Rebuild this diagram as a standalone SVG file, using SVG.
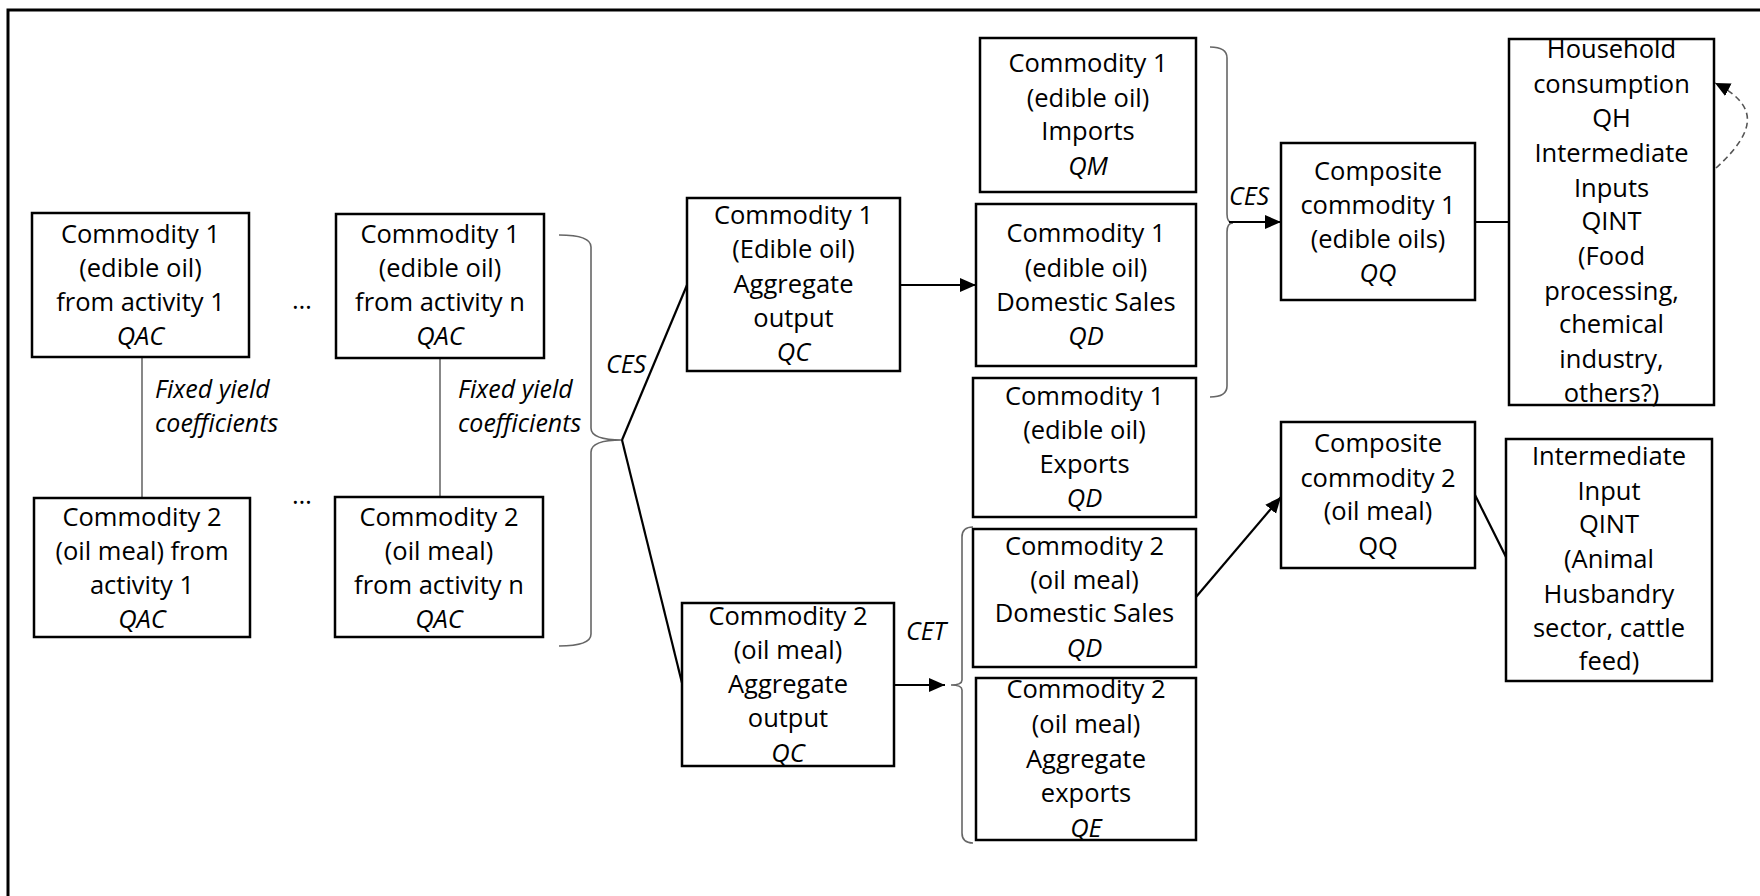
<svg xmlns="http://www.w3.org/2000/svg" width="1760" height="896" viewBox="0 0 1760 896">
  <defs>
    <style>
      .box { fill: #ffffff; stroke: #000000; stroke-width: 2.5; }
      .t { font-family: "Open Sans", "Liberation Sans", sans-serif; font-size: 25.5px; fill: #000000; text-anchor: middle; }
      .i { font-style: italic; }
      .lbl { font-family: "Open Sans", "Liberation Sans", sans-serif; font-size: 25px; font-style: italic; fill: #000000; }
      .link { fill: none; stroke: #000000; stroke-width: 2.2; }
      .thin { fill: none; stroke: #555555; stroke-width: 1.4; }
      .brace { fill: none; stroke: #666666; stroke-width: 1.6; }
      .dash { fill: none; stroke: #555555; stroke-width: 1.6; stroke-dasharray: 6 4; }
    </style>
    <marker id="arrow" markerUnits="userSpaceOnUse" markerWidth="18" markerHeight="16" refX="16" refY="7" orient="auto">
      <path d="M0,0 L16,7 L0,14 Z" fill="#000000"/>
    </marker>
    <marker id="arrowSmall" markerUnits="userSpaceOnUse" markerWidth="18" markerHeight="16" refX="15" refY="7" orient="auto">
      <path d="M0,0 L15,7 L0,14 Z" fill="#000000"/>
    </marker>
  </defs>

  <rect width="1760" height="896" fill="#ffffff"/>
  <!-- outer frame -->
  <rect x="8" y="10" width="1800" height="1000" fill="none" stroke="#000000" stroke-width="3"/>

  <g id="connectors">
    <!-- fixed yield links -->
    <line class="thin" x1="142" y1="357" x2="142" y2="498"/>
    <line class="thin" x1="440" y1="358" x2="440" y2="497"/>
    <!-- brace grouping activity outputs -->
    <path class="brace" d="M559,235 Q591,235 591,247 L591,428 Q591,440 622,440 Q591,440 591,452 L591,634 Q591,646 559,646"/>
    <line class="link" x1="622" y1="440" x2="687" y2="285"/>
    <line class="link" x1="622" y1="440" x2="682" y2="683"/>
    <!-- aggregate output to domestic sales -->
    <line class="link" x1="900" y1="285" x2="976" y2="285" marker-end="url(#arrow)"/>
    <!-- CET split of oil meal -->
    <line class="link" x1="894" y1="685" x2="945" y2="685" marker-end="url(#arrow)"/>
    <path class="brace" d="M973,527 Q962,527 962,537 L962,680 Q962,685 951,685 Q962,685 962,690 L962,833 Q962,843 973,843"/>
    <!-- CES aggregation of edible oil supply -->
    <path class="brace" d="M1210,47 Q1227,47 1227,58 L1227,214 Q1227,223 1233,223 Q1227,223 1227,232 L1227,386 Q1227,397 1210,397"/>
    <line class="link" x1="1229" y1="222" x2="1281" y2="222" marker-end="url(#arrow)"/>
    <line class="link" x1="1475" y1="222" x2="1509" y2="222"/>
    <!-- oil meal domestic sales to composite -->
    <line class="link" x1="1196" y1="597" x2="1281" y2="497" marker-end="url(#arrow)"/>
    <line class="link" x1="1475" y1="495" x2="1506" y2="557"/>
    <!-- feedback loop on household demand -->
    <path class="dash" d="M1716,168 C1760,128 1756,104 1715,83" marker-end="url(#arrowSmall)"/>
  </g>

  <g id="labels">
    <text class="lbl" x="155" y="398">Fixed yield</text>
    <text class="lbl" x="155" y="432">coefficients</text>
    <text class="lbl" x="458" y="398">Fixed yield</text>
    <text class="lbl" x="458" y="432">coefficients</text>
    <text class="lbl" x="606" y="373">CES</text>
    <text class="lbl" x="906" y="640">CET</text>
    <text class="lbl" x="1229" y="205">CES</text>
    <text class="t" x="302" y="309">…</text>
    <text class="t" x="302" y="504">…</text>
  </g>

  <g id="act1-oil">
    <rect class="box" x="32" y="213" width="217" height="144"/>
    <text class="t" x="140.5" y="243">Commodity 1</text>
    <text class="t" x="140.5" y="277">(edible oil)</text>
    <text class="t" x="140.5" y="311">from activity 1</text>
    <text class="t i" x="140.5" y="345">QAC</text>
  </g>

  <g id="actn-oil">
    <rect class="box" x="336" y="214" width="208" height="144"/>
    <text class="t" x="440" y="243">Commodity 1</text>
    <text class="t" x="440" y="277">(edible oil)</text>
    <text class="t" x="440" y="311">from activity n</text>
    <text class="t i" x="440" y="345">QAC</text>
  </g>

  <g id="act1-meal">
    <rect class="box" x="34" y="498" width="216" height="139"/>
    <text class="t" x="142" y="526">Commodity 2</text>
    <text class="t" x="142" y="560">(oil meal) from</text>
    <text class="t" x="142" y="594">activity 1</text>
    <text class="t i" x="142" y="628">QAC</text>
  </g>

  <g id="actn-meal">
    <rect class="box" x="335" y="497" width="208" height="140"/>
    <text class="t" x="439" y="526">Commodity 2</text>
    <text class="t" x="439" y="560">(oil meal)</text>
    <text class="t" x="439" y="594">from activity n</text>
    <text class="t i" x="439" y="628">QAC</text>
  </g>

  <g id="oil-aggregate">
    <rect class="box" x="687" y="198" width="213" height="173"/>
    <text class="t" x="793.5" y="224">Commodity 1</text>
    <text class="t" x="793.5" y="258">(Edible oil)</text>
    <text class="t" x="793.5" y="293">Aggregate</text>
    <text class="t" x="793.5" y="327">output</text>
    <text class="t i" x="793.5" y="361">QC</text>
  </g>

  <g id="meal-aggregate">
    <rect class="box" x="682" y="603" width="212" height="163"/>
    <text class="t" x="788" y="625">Commodity 2</text>
    <text class="t" x="788" y="659">(oil meal)</text>
    <text class="t" x="788" y="693">Aggregate</text>
    <text class="t" x="788" y="727">output</text>
    <text class="t i" x="788" y="762">QC</text>
  </g>

  <g id="oil-imports">
    <rect class="box" x="980" y="38" width="216" height="154"/>
    <text class="t" x="1088" y="72">Commodity 1</text>
    <text class="t" x="1088" y="107">(edible oil)</text>
    <text class="t" x="1088" y="140">Imports</text>
    <text class="t i" x="1088" y="175">QM</text>
  </g>

  <g id="oil-domestic">
    <rect class="box" x="976" y="204" width="220" height="162"/>
    <text class="t" x="1086" y="242">Commodity 1</text>
    <text class="t" x="1086" y="277">(edible oil)</text>
    <text class="t" x="1086" y="311">Domestic Sales</text>
    <text class="t i" x="1086" y="345">QD</text>
  </g>

  <g id="oil-exports">
    <rect class="box" x="973" y="378" width="223" height="139"/>
    <text class="t" x="1084.5" y="405">Commodity 1</text>
    <text class="t" x="1084.5" y="439">(edible oil)</text>
    <text class="t" x="1084.5" y="473">Exports</text>
    <text class="t i" x="1084.5" y="507">QD</text>
  </g>

  <g id="meal-domestic">
    <rect class="box" x="973" y="529" width="223" height="138"/>
    <text class="t" x="1084.5" y="555">Commodity 2</text>
    <text class="t" x="1084.5" y="589">(oil meal)</text>
    <text class="t" x="1084.5" y="622">Domestic Sales</text>
    <text class="t i" x="1084.5" y="657">QD</text>
  </g>

  <g id="meal-exports">
    <rect class="box" x="976" y="678" width="220" height="162"/>
    <text class="t" x="1086" y="698">Commodity 2</text>
    <text class="t" x="1086" y="733">(oil meal)</text>
    <text class="t" x="1086" y="768">Aggregate</text>
    <text class="t" x="1086" y="802">exports</text>
    <text class="t i" x="1086" y="837">QE</text>
  </g>

  <g id="oil-composite">
    <rect class="box" x="1281" y="143" width="194" height="157"/>
    <text class="t" x="1378" y="180">Composite</text>
    <text class="t" x="1378" y="214">commodity 1</text>
    <text class="t" x="1378" y="248">(edible oils)</text>
    <text class="t i" x="1378" y="282">QQ</text>
  </g>

  <g id="meal-composite">
    <rect class="box" x="1281" y="422" width="194" height="146"/>
    <text class="t" x="1378" y="452">Composite</text>
    <text class="t" x="1378" y="487">commodity 2</text>
    <text class="t" x="1378" y="520">(oil meal)</text>
    <text class="t" x="1378" y="555">QQ</text>
  </g>

  <g id="oil-demand">
    <rect class="box" x="1509" y="39" width="205" height="366"/>
    <text class="t" x="1611.5" y="58">Household</text>
    <text class="t" x="1611.5" y="93">consumption</text>
    <text class="t" x="1611.5" y="127">QH</text>
    <text class="t" x="1611.5" y="162">Intermediate</text>
    <text class="t" x="1611.5" y="197">Inputs</text>
    <text class="t" x="1611.5" y="230">QINT</text>
    <text class="t" x="1611.5" y="265">(Food</text>
    <text class="t" x="1611.5" y="300">processing,</text>
    <text class="t" x="1611.5" y="333">chemical</text>
    <text class="t" x="1611.5" y="368">industry,</text>
    <text class="t" x="1611.5" y="402">others?)</text>
  </g>

  <g id="meal-demand">
    <rect class="box" x="1506" y="439" width="206" height="242"/>
    <text class="t" x="1609" y="465">Intermediate</text>
    <text class="t" x="1609" y="500">Input</text>
    <text class="t" x="1609" y="533">QINT</text>
    <text class="t" x="1609" y="568">(Animal</text>
    <text class="t" x="1609" y="603">Husbandry</text>
    <text class="t" x="1609" y="637">sector, cattle</text>
    <text class="t" x="1609" y="670">feed)</text>
  </g>
</svg>
